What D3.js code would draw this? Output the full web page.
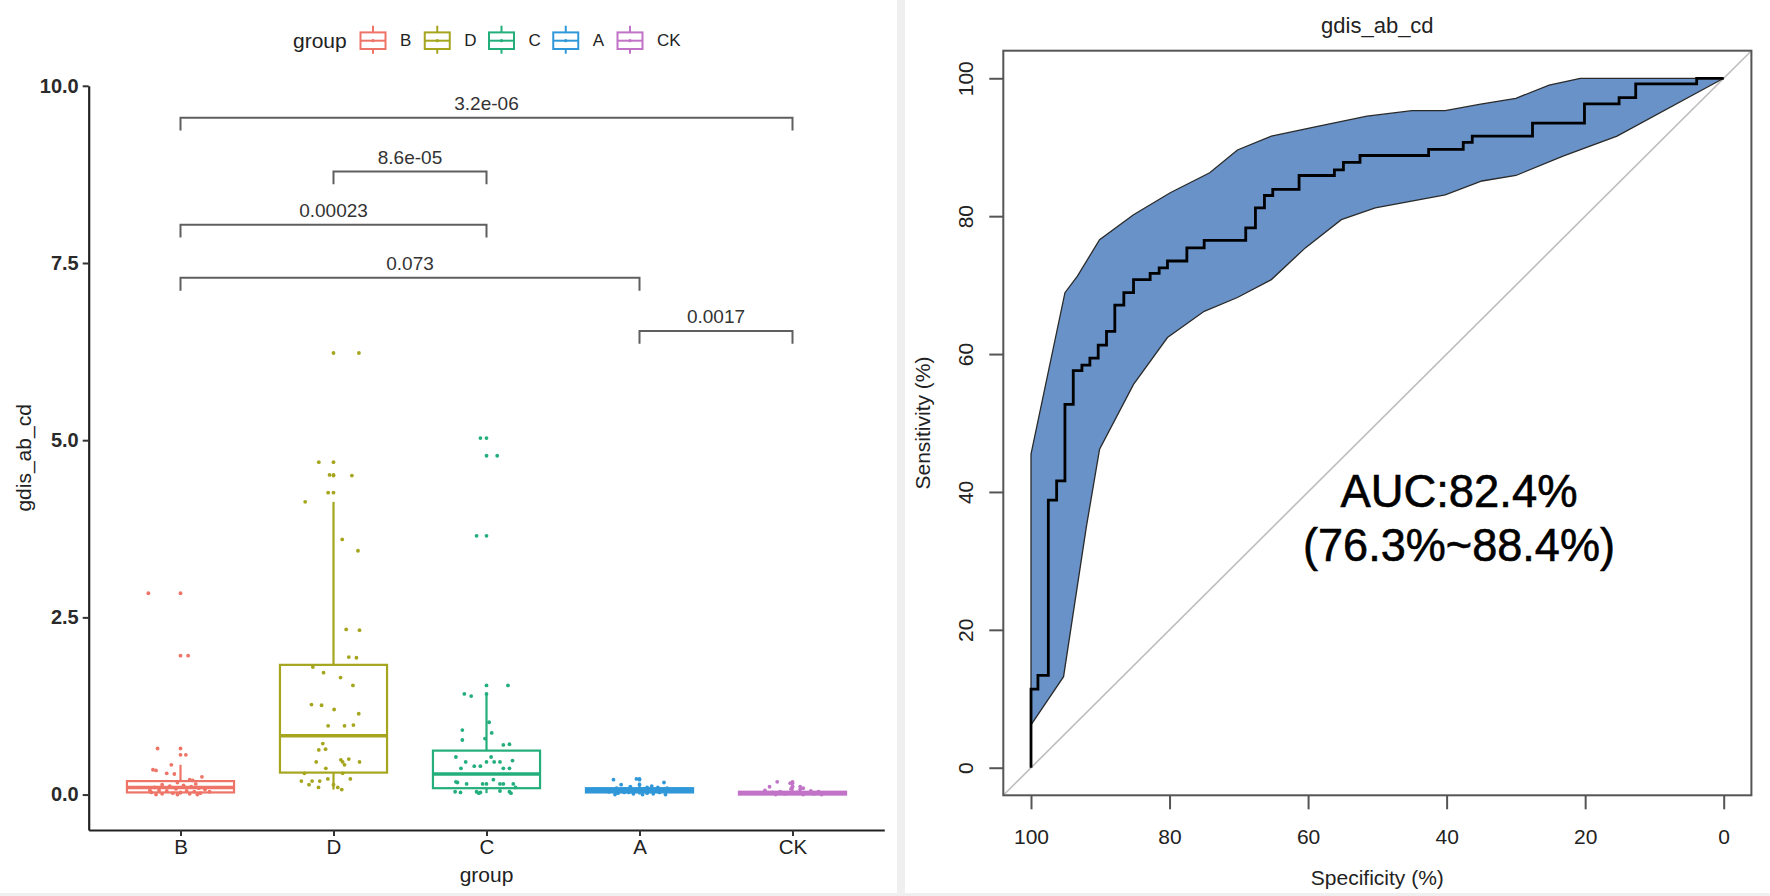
<!DOCTYPE html>
<html><head><meta charset="utf-8">
<script src="https://cdn.jsdelivr.net/npm/d3@7"></script>
<style>
body{margin:0;background:#fff;}
svg{display:block;font-family:"Liberation Sans",Arial,Helvetica,sans-serif;}
</style></head><body>
<svg id="c" width="1770" height="896"></svg>
<script>
// ---------------- LEFT PANEL DATA ----------------
const groups = ["B","D","C","A","CK"];
const groupColors = ["#EE7468","#A5A51E","#23AE7C","#3098D8","#C173C7"];
const boxQ1 = [0.03,0.31,0.09,0.03,0.00];
const boxMedian = [0.10,0.83,0.29,0.06,0.02];
const boxQ3 = [0.19,1.83,0.62,0.09,0.04];
const whiskerLow = [0.00,0.07,0.02,0.00,0.00];
const whiskerHigh = [0.42,4.13,1.41,0.17,0.10];
const yTicksLeft = [0,2.5,5,7.5,10];

const valuesB = [2.84,1.96,0.65,0.56,0.42,0.35,0.34,0.30,0.29,0.25,0.21,0.20,0.17,0.15,0.14,0.13,0.12,0.11,0.10,0.09,0.08,0.07,0.06,0.05,0.05,0.04,0.03,0.03,0.02,0.02,0.01,0.01,0.00,0.00,0.00,0.04,0.06];
const jitterB = [-0.21,0.05,-0.15,0.035,-0.06,-0.18,-0.16,-0.09,-0.04,0.14,0.06,0.08,-0.02,0.10,-0.12,0.02,-0.07,0.07,-0.17,0.12,-0.03,0.16,-0.14,0.04,-0.09,0.09,-0.19,0.0,-0.05,0.13,-0.12,0.06,-0.16,0.11,-0.02,0.19,-0.20];
const valuesD = [6.23,4.69,4.51,4.50,4.26,4.13,3.60,3.44,2.33,2.32,1.94,1.93,1.80,1.72,1.65,1.54,1.27,1.26,1.20,1.14,0.97,0.97,0.98,0.72,0.63,0.64,0.49,0.50,0.46,0.46,0.46,0.42,0.37,0.30,0.30,0.22,0.22,0.19,0.19,0.19,0.14,0.14,0.10,0.10,0.07];
const jitterD = [0.166,-0.096,-0.026,0.12,-0.035,-0.185,0.057,0.16,0.083,0.17,0.10,0.15,-0.135,-0.065,0.046,0.127,-0.144,-0.078,0.004,0.165,-0.035,0.072,0.13,-0.07,-0.096,-0.052,0.048,0.10,-0.113,0.06,0.17,0.072,-0.05,-0.19,0.06,-0.037,0.11,-0.21,-0.14,-0.09,-0.16,0.0,-0.098,0.028,0.054];
const valuesC = [5.03,4.78,3.65,1.54,1.42,1.39,1.02,0.91,0.87,0.79,0.77,0.70,0.71,0.53,0.53,0.46,0.46,0.46,0.46,0.48,0.40,0.40,0.37,0.37,0.37,0.21,0.18,0.17,0.15,0.15,0.15,0.15,0.15,0.15,0.04,0.03,0.04,0.03,0.05,0.04,0.02,0.02,0.10];
const jitterC = [-0.04,0.07,-0.065,0.14,-0.145,-0.10,0.017,-0.158,0.034,-0.01,-0.158,0.11,0.15,-0.20,0.03,-0.136,0.0,0.05,0.088,0.17,-0.08,-0.04,-0.167,0.11,0.15,0.045,-0.20,-0.19,-0.13,-0.025,0.0,0.088,0.11,0.175,-0.205,-0.17,-0.065,-0.04,0.088,0.15,-0.05,0.16,0.19];
const valuesA = [0.21,0.22,0.17,0.14,0.14,0.12,0.11,0.10,0.10,0.09,0.09,0.08,0.08,0.07,0.07,0.06,0.06,0.05,0.05,0.04,0.04,0.03,0.03,0.02,0.02,0.01,0.01,0.00,0.00,0.00,0.05,0.03];
const jitterA = [-0.17,-0.02,0.16,-0.12,0.0,0.08,-0.06,0.05,0.12,-0.15,0.18,-0.09,0.03,-0.18,0.10,-0.03,0.15,-0.11,0.07,-0.20,0.01,-0.07,0.13,-0.14,0.05,-0.04,0.09,-0.16,0.02,0.17,0.20,-0.10];
const valuesCK = [0.18,0.16,0.11,0.11,0.09,0.08,0.07,0.06,0.05,0.04,0.04,0.03,0.03,0.02,0.02,0.01,0.01,0.00,0.00,0.00,0.02];
const jitterCK = [-0.10,-0.015,-0.15,0.05,0.07,-0.01,0.05,-0.18,0.12,-0.08,0.17,-0.13,0.03,0.09,-0.20,-0.05,0.14,-0.11,0.07,0.19,-0.02];
const groupValues = [valuesB,valuesD,valuesC,valuesA,valuesCK];
const groupJitter = [jitterB,jitterD,jitterC,jitterA,jitterCK];

const compFrom = ["B","D","B","B","A"];
const compTo = ["CK","C","C","A","CK"];
const compLevel = [9.55,8.79,8.04,7.29,6.54];
const compLabel = ["3.2e-06","8.6e-05","0.00023","0.073","0.0017"];

// ---------------- RIGHT PANEL DATA ----------------
const rocSpecificity = [100,100,99.0,97.5,96.3,95.1,93.9,92.65,91.5,90.3,89.1,87.9,86.6,85.2,82.8,81.5,80.3,77.5,75.0,69.0,67.6,66.3,65.1,61.3,56.2,54.9,52.5,42.6,37.6,36.3,27.6,20.1,15.1,12.7,3.9,0];
const rocSensitivity = [0,11.4,13.4,38.8,41.6,52.7,57.6,58.4,59.4,61.3,63.3,67.1,68.9,70.8,71.7,72.5,73.5,75.4,76.5,78.3,81.2,83.0,83.9,85.9,86.7,87.8,88.8,89.7,90.7,91.6,93.5,96.3,97.2,99.2,100,100];
const ciUpperSpec = [100,95.1,93.3,90.1,85.2,79.9,74.2,70.2,65.3,58.8,51.5,45.0,40.2,35.3,30.0,25.2,20.7,0];
const ciUpperSens = [45.5,68.9,71.3,76.6,80.2,83.4,86.3,89.6,91.6,93.0,94.5,95.3,95.3,96.2,97.1,99.0,100,100];
const ciLowerSpec = [100,95.3,92.0,90.1,85.2,80.3,75.0,70.2,65.3,60.4,55.2,50.3,40.2,34.9,30.0,23.2,15.4,0];
const ciLowerSens = [6.2,13.2,35.0,46.2,55.6,62.4,66.2,68.2,70.8,75.4,79.5,81.2,83.1,85.1,85.9,88.7,91.6,100];
const rocTicks = [100,80,60,40,20,0];
const rocTitle = "gdis_ab_cd";
const aucLine1 = "AUC:82.4%";
const aucLine2 = "(76.3%~88.4%)";

// ---------------- DRAW ----------------
const svg = d3.select("#c");
svg.append("rect").attr("width",1770).attr("height",896).attr("fill","#efefef");
svg.append("rect").attr("x",0).attr("y",0).attr("width",897).attr("height",893).attr("fill","#fff");
svg.append("rect").attr("x",905).attr("y",0).attr("width",865).attr("height",893).attr("fill","#fff");

// LEFT
const xL = d3.scalePoint().domain(groups).range([88.7,884.3]).padding(0.6);
const step = xL.step();
const yL = d3.scaleLinear().domain([-0.5,10]).range([830,85.8]);
const L = svg.append("g");

groups.forEach((g,i)=>{
  const cx = xL(g), hw = 0.35*step, col = groupColors[i];
  const bg = L.append("g").attr("stroke",col).attr("fill","none");
  bg.append("line").attr("x1",cx).attr("x2",cx).attr("y1",yL(boxQ3[i])).attr("y2",yL(whiskerHigh[i])).attr("stroke-width",2.2);
  bg.append("line").attr("x1",cx).attr("x2",cx).attr("y1",yL(boxQ1[i])).attr("y2",yL(whiskerLow[i])).attr("stroke-width",2.2);
  bg.append("rect").attr("x",cx-hw).attr("width",2*hw).attr("y",yL(boxQ3[i])).attr("height",Math.max(0.5,yL(boxQ1[i])-yL(boxQ3[i]))).attr("fill","#fff").attr("stroke-width",2.2);
  bg.append("line").attr("x1",cx-hw).attr("x2",cx+hw).attr("y1",yL(boxMedian[i])).attr("y2",yL(boxMedian[i])).attr("stroke-width",3.4);
  groupValues[i].filter(v=>v>whiskerHigh[i]||v<whiskerLow[i]).forEach(v=>{
    L.append("circle").attr("cx",cx).attr("cy",yL(v)).attr("r",1.9).attr("fill",col);
  });
});
groups.forEach((g,i)=>{
  groupValues[i].forEach((v,j)=>{
    L.append("circle").attr("cx",xL(g)+groupJitter[i][j]*step).attr("cy",yL(v)).attr("r",1.9).attr("fill",groupColors[i]);
  });
});

compLabel.forEach((lab,k)=>{
  const x1 = xL(compFrom[k]), x2 = xL(compTo[k]);
  const yTop = yL(compLevel[k]), yBot = yL(compLevel[k]-0.18);
  L.append("path").attr("d",`M${x1},${yBot}V${yTop}H${x2}V${yBot}`).attr("fill","none").attr("stroke","#5f5f5f").attr("stroke-width",2);
  L.append("text").attr("x",(x1+x2)/2).attr("y",yTop-8).attr("text-anchor","middle").attr("font-size",19).attr("fill","#333").text(lab);
});

const gy = L.append("g").attr("transform","translate(88.7,0)")
  .call(d3.axisLeft(yL).tickValues(yTicksLeft).tickFormat(d3.format(".1f")).tickSize(6).tickSizeOuter(0).tickPadding(4));
gy.select(".domain").attr("stroke","#222").attr("stroke-width",2.2);
gy.selectAll(".tick line").attr("stroke","#333").attr("stroke-width",2);
gy.selectAll(".tick text").attr("font-size",20).attr("font-weight","bold").attr("fill","#2a2a2a").attr("font-family","Liberation Sans, Arial, sans-serif");
const gx = L.append("g").attr("transform","translate(0,830)")
  .call(d3.axisBottom(xL).tickSize(6).tickSizeOuter(0).tickPadding(3));
gx.select(".domain").attr("stroke","#222").attr("stroke-width",2.2);
gx.selectAll(".tick line").attr("stroke","#333").attr("stroke-width",2);
gx.selectAll(".tick text").attr("font-size",20.5).attr("fill","#222").attr("font-family","Liberation Sans, Arial, sans-serif");

L.append("text").attr("x",xL("C")).attr("y",874).attr("dominant-baseline","central").attr("text-anchor","middle").attr("font-size",21).attr("fill","#222").text("group");
L.append("text").attr("transform",`translate(23,${(85.8+830)/2}) rotate(-90)`).attr("dominant-baseline","central").attr("text-anchor","middle").attr("font-size",21).attr("fill","#222").text("gdis_ab_cd");

const leg = L.append("g");
leg.append("text").attr("x",293).attr("y",40.7).attr("dominant-baseline","central").attr("font-size",21).attr("fill","#222").text("group");
groups.forEach((g,i)=>{
  const kx = 373 + i*64.25, ky = 40.7, col = groupColors[i];
  const k = leg.append("g").attr("stroke",col).attr("fill","none").attr("stroke-width",2);
  k.append("line").attr("x1",kx).attr("x2",kx).attr("y1",ky-15).attr("y2",ky-8.3);
  k.append("line").attr("x1",kx).attr("x2",kx).attr("y1",ky+8.3).attr("y2",ky+13);
  k.append("rect").attr("x",kx-12.5).attr("y",ky-8.3).attr("width",25).attr("height",16.6);
  k.append("line").attr("x1",kx-12.5).attr("x2",kx+12.5).attr("y1",ky).attr("y2",ky);
  leg.append("circle").attr("cx",kx).attr("cy",ky).attr("r",1.6).attr("fill",col);
  leg.append("text").attr("x",kx+27).attr("y",ky).attr("dominant-baseline","central").attr("font-size",17).attr("fill","#222").text(g);
});

// RIGHT
const R = svg.append("g");
const xR = d3.scaleLinear().domain([104,-4]).range([1003.3,1751.4]);
const yR = d3.scaleLinear().domain([-4,104]).range([795.3,50.7]);
const ln = d3.line().x(d=>xR(d[0])).y(d=>yR(d[1]));

R.append("path").attr("d",ln([[104,-4],[-4,104]])).attr("stroke","#bdbdbd").attr("stroke-width",1.6).attr("fill","none");
const upper = ciUpperSpec.map((s,i)=>[s,ciUpperSens[i]]);
const lower = ciLowerSpec.map((s,i)=>[s,ciLowerSens[i]]).reverse();
R.append("path").attr("d",ln(upper.concat(lower))+"Z").attr("fill","#6892c8").attr("stroke","#2a2a2a").attr("stroke-width",1.3);
const lnStep = d3.line().x(d=>xR(d[0])).y(d=>yR(d[1])).curve(d3.curveStepAfter);
R.append("path").attr("d",lnStep(rocSpecificity.map((s,i)=>[s,rocSensitivity[i]]))).attr("fill","none").attr("stroke","#000").attr("stroke-width",2.8);
R.append("rect").attr("x",1003.3).attr("y",50.7).attr("width",1751.4-1003.3).attr("height",795.3-50.7).attr("fill","none").attr("stroke","#555").attr("stroke-width",2);
const rx = R.append("g").attr("transform","translate(0,795.3)").call(d3.axisBottom(xR).tickValues(rocTicks).tickFormat(d3.format("d")).tickSize(14).tickSizeOuter(0).tickPadding(20));
rx.select(".domain").remove();
rx.selectAll(".tick line").attr("stroke","#555").attr("stroke-width",2);
rx.selectAll(".tick text").attr("font-size",21).attr("fill","#222").attr("font-family","Liberation Sans, Arial, sans-serif");
const ry = R.append("g").attr("transform","translate(1003.3,0)").call(d3.axisLeft(yR).tickValues(rocTicks).tickFormat(d3.format("d")).tickSize(14).tickSizeOuter(0));
ry.select(".domain").remove();
ry.selectAll(".tick line").attr("stroke","#555").attr("stroke-width",2);
ry.selectAll(".tick text").attr("font-size",21).attr("fill","#222").attr("font-family","Liberation Sans, Arial, sans-serif")
  .attr("transform","rotate(-90)").attr("x",0).attr("y",-38).attr("dy",null).attr("text-anchor","middle").attr("dominant-baseline","central");

R.append("text").attr("x",(1003.3+1751.4)/2).attr("y",25).attr("text-anchor","middle").attr("dominant-baseline","central").attr("font-size",22).attr("fill","#222").text(rocTitle);
R.append("text").attr("x",(1003.3+1751.4)/2).attr("y",877).attr("text-anchor","middle").attr("dominant-baseline","central").attr("font-size",21).attr("fill","#222").text("Specificity (%)");
R.append("text").attr("transform",`translate(922,${(50.7+795.3)/2}) rotate(-90)`).attr("text-anchor","middle").attr("dominant-baseline","central").attr("font-size",21).attr("fill","#222").text("Sensitivity (%)");

R.append("text").attr("x",1459).attr("y",506.7).attr("text-anchor","middle").attr("font-size",46).attr("fill","#000").attr("stroke","#000").attr("stroke-width",0.6).attr("textLength",237).attr("lengthAdjust","spacingAndGlyphs").text(aucLine1);
R.append("text").attr("x",1459).attr("y",560.7).attr("text-anchor","middle").attr("font-size",46).attr("fill","#000").attr("stroke","#000").attr("stroke-width",0.6).attr("textLength",312).attr("lengthAdjust","spacingAndGlyphs").text(aucLine2);
</script>
</body></html>
